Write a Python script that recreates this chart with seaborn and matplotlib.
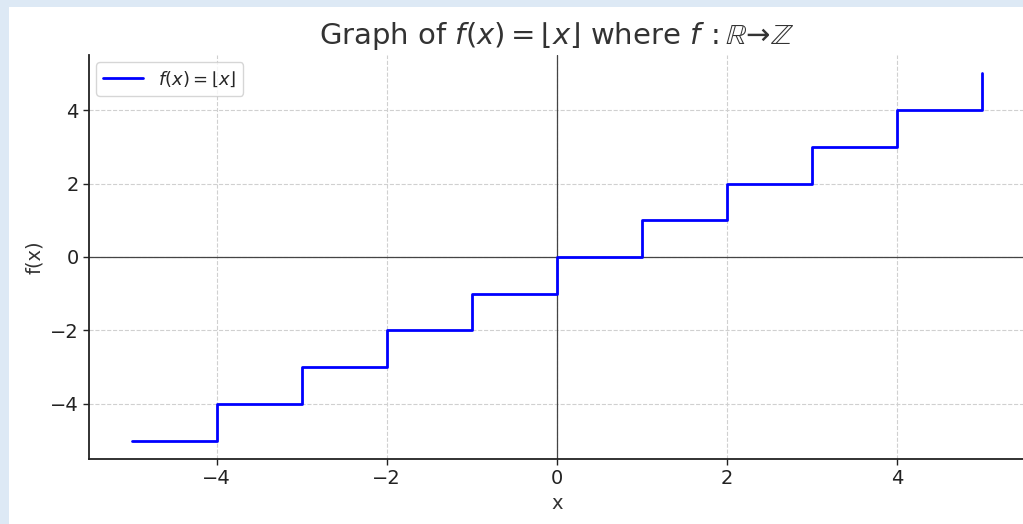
import numpy as np
import matplotlib
matplotlib.use("Agg")
import matplotlib.pyplot as plt
import seaborn as sns
import pandas as pd
from matplotlib.patches import Rectangle

# Data: floor function sampled at integers, drawn with post steps
x_vals = [-5, -4, -3, -2, -1, 0, 1, 2, 3, 4, 5]
y_vals = [-5, -4, -3, -2, -1, 0, 1, 2, 3, 4, 5]
x_ticks = [-4, -2, 0, 2, 4]
y_ticks = [-4, -2, 0, 2, 4]

df = pd.DataFrame({"x": x_vals, "y": y_vals})

sns.set_style("white")
plt.rcParams['font.family'] = ['DejaVu Sans']

W, H = 1023, 524
fig = plt.figure(figsize=(W / 100, H / 100), dpi=100, facecolor="#dde9f5")
fig.patches.append(Rectangle((9 / W, 0), 1, 1 - 7 / H, transform=fig.transFigure,
                             facecolor="white", edgecolor="none", zorder=-1))
ax = fig.add_axes([89 / W, 1 - 459 / H, (1024.5 - 89) / W, (459 - 55) / H])
ax.set_facecolor("white")

sns.lineplot(data=df, x="x", y="y", ax=ax, drawstyle="steps-post", color="blue",
             linewidth=2, label=r"$f(x) = \lfloor x \rfloor$", zorder=3)

ax.axhline(0, color="#444444", linewidth=0.9, zorder=2)
ax.axvline(0, color="#444444", linewidth=0.9, zorder=2)

ax.set_xlim(-5.5, 5.5)
ax.set_ylim(-5.5, 5.5)
ax.set_xticks(x_ticks)
ax.set_yticks(y_ticks)
ax.grid(True, linestyle="--", color="#d0d0d0", linewidth=0.8)
ax.tick_params(axis="both", labelsize=14, colors="#222222", length=4, width=1, left=True, bottom=True)

for s in ["top", "right"]:
    ax.spines[s].set_visible(False)
for s in ["left", "bottom"]:
    ax.spines[s].set_color("#222222")
    ax.spines[s].set_linewidth(1.3)

ax.set_xlabel("x", fontsize=14, color="#333333")
ax.set_ylabel("f(x)", fontsize=14, color="#333333")
ax.set_title(r"Graph of $f(x) = \lfloor x \rfloor$ where $f\,: \mathbb{R}$→$\mathbb{Z}$",
             fontsize=21, color="#333333", pad=8)
ax.legend(loc="upper left", fontsize=13, frameon=True, handlelength=2.2,
          borderaxespad=0.4)

fig.savefig("out.png", dpi=100, facecolor=fig.get_facecolor())
